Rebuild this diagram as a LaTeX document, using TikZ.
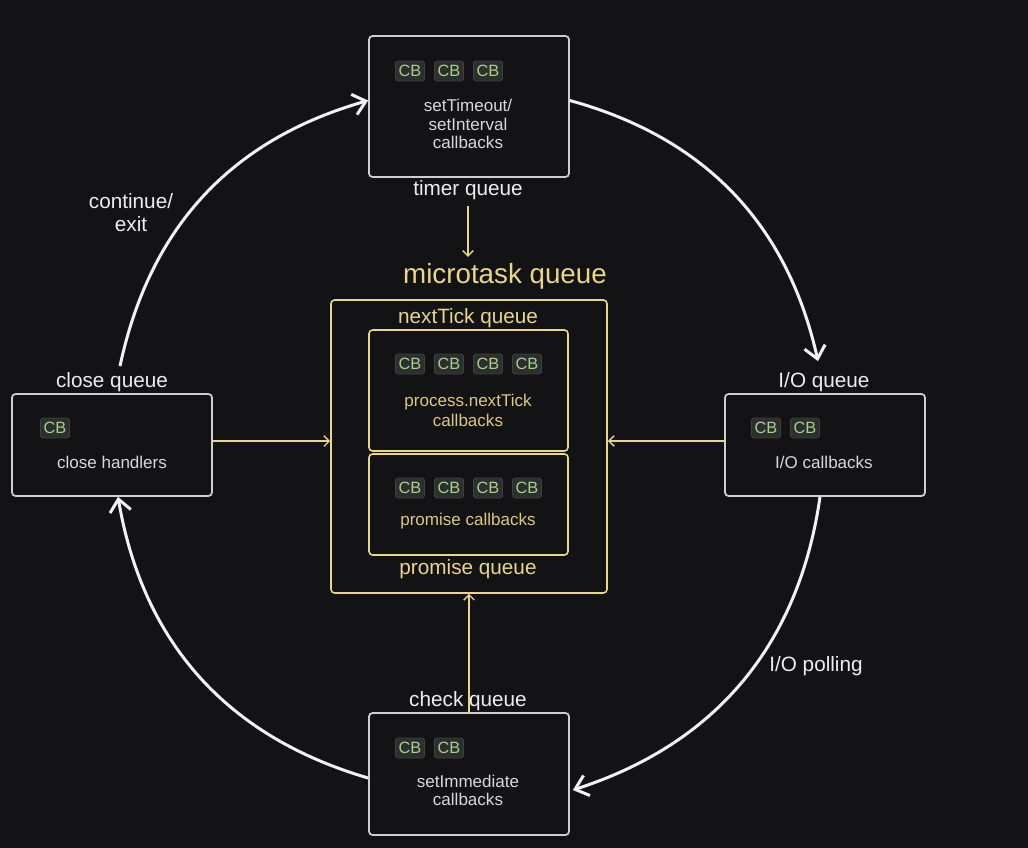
\documentclass[tikz,border=0pt]{standalone}
\usepackage{fontspec}
\setmainfont{Liberation Sans}
\usetikzlibrary{arrows.meta}

\definecolor{bg}{HTML}{131214}
\definecolor{boxline}{HTML}{CFCFCF}
\definecolor{loopline}{HTML}{F2F2F2}
\definecolor{mtyellow}{HTML}{E8D68C}
\definecolor{mttext}{HTML}{DCC883}
\definecolor{cbfill}{HTML}{2C2F2D}
\definecolor{cbdraw}{HTML}{3E413E}
\definecolor{cbtext}{HTML}{A8CF8C}
\definecolor{labeltext}{HTML}{EDEDED}
\definecolor{boxtext}{HTML}{D9D9D9}

\tikzset{
    queuebox/.style={draw=boxline, line width=1pt, rounded corners=2pt, inner sep=0pt, minimum width=4cm},
    mtbox/.style={draw=mtyellow, line width=0.9pt, rounded corners=2pt, inner sep=0pt},
    cb/.style={fill=cbfill, draw=cbdraw, line width=0.4pt, rounded corners=1pt, text=cbtext, inner sep=0pt,
        minimum width=0.58cm, minimum height=0.4cm, font=\fontsize{9.3}{10}\selectfont},
    qlabel/.style={text=labeltext, font=\fontsize{11.8}{13}\selectfont, align=center},
    mtlabel/.style={text=mtyellow, font=\fontsize{11.8}{13}\selectfont},
    boxlabel/.style={text=boxtext, font=\fontsize{9.7}{10.3}\selectfont, align=center},
    mtboxlabel/.style={text=mttext, font=\fontsize{9.7}{11.8}\selectfont, align=center},
    loop/.style={draw=loopline, line width=1.7pt, -{Straight Barb[length=7pt,width=12pt,line width=1.7pt]}},
    mtarrow/.style={draw=mtyellow, line width=0.8pt, -{Straight Barb[length=3pt,width=6pt]}}
}

\begin{document}
\begin{tikzpicture}[x=0.02cm,y=-0.02cm]
    \fill[bg] (0,0) rectangle (1028,848);
    \useasboundingbox (0,0) rectangle (1028,848);

    % the four phase boxes
    \node[queuebox, minimum height=2.82cm] (timer) at (469,106.5) {};
    \node[queuebox, minimum height=2.04cm] (close) at (112,445) {};
    \node[queuebox, minimum height=2.04cm] (io) at (825,445) {};
    \node[queuebox, minimum height=2.44cm] (check) at (469,774) {};

    \node[qlabel] (timerq) at (468,190) {timer queue};
    \node[qlabel] (closeq) at (112,382) {close queue};
    \node[qlabel] (ioq) at (824,382) {I/O queue};
    \node[qlabel] (checkq) at (468,701) {check queue};
    \node[qlabel, font=\fontsize{11.8}{13}\selectfont] (cont) at (131,213) {continue/\\exit};
    \node[qlabel] (poll) at (816,666) {I/O polling};

    \foreach \x in {410,449,488}
        \node[cb] (tcb\x) at (\x,71) {CB};
    \node[boxlabel] (ttext) at (468,124) {setTimeout/\\setInterval\\callbacks};

    \node[cb] (ccb) at (55,428) {CB};
    \node[boxlabel] (ctext) at (112,462) {close handlers};

    \foreach \x in {766,805}
        \node[cb] (icb\x) at (\x,428) {CB};
    \node[boxlabel] (itext) at (824,462) {I/O callbacks};

    \foreach \x in {410,449}
        \node[cb] (kcb\x) at (\x,748) {CB};
    \node[boxlabel] (ktext) at (468,790) {setImmediate\\callbacks};

    % microtask queue
    \node[mtlabel, font=\fontsize{15.8}{17}\selectfont] (mtq) at (505,276) {microtask queue};
    \node[mtbox, minimum width=5.52cm, minimum height=5.86cm] (mt) at (469,446.5) {};
    \node[mtbox, minimum width=3.98cm, minimum height=2.42cm] (ntbox) at (468.5,390.5) {};
    \node[mtbox, minimum width=3.98cm, minimum height=2.02cm] (prbox) at (468.5,504.5) {};
    \node[mtlabel] (ntq) at (468,318) {nextTick queue};
    \node[mtlabel] (prq) at (468,569) {promise queue};

    \foreach \x in {410,449,488,527} {
        \node[cb] (ncb\x) at (\x,364) {CB};
        \node[cb] (pcb\x) at (\x,488) {CB};
    }
    \node[mtboxlabel] (ntext) at (468,410.5) {process.nextTick\\callbacks};
    \node[mtboxlabel] (ptext) at (468,521) {promise callbacks};

    % into the microtask queue
    \draw[mtarrow] (timerq) -- (mtq.north -| timerq);
    \draw[mtarrow] ([yshift=0.08cm]close.east) -- ([yshift=0.08cm]close.east -| mt.west);
    \draw[mtarrow] ([yshift=0.08cm]io.west) -- ([yshift=0.08cm]io.west -| mt.east);
    \draw[mtarrow] (check.north) -- (mt.south);

    % the loop
    \draw[loop] ([xshift=0.16cm]closeq.north) to[bend left=31] ([yshift=0.12cm]timer.west);
    \draw[loop] ([yshift=0.12cm]timer.east) to[bend left=31] ([xshift=-0.12cm,yshift=0.1cm]ioq.north);
    \draw[loop] ([xshift=-0.1cm]io.south) to[bend left=32] ([xshift=0.06cm,yshift=-0.32cm]check.east);
    \draw[loop] ([yshift=-0.08cm]check.west) to[bend left=32] ([xshift=0.12cm]close.south);
\end{tikzpicture}
\end{document}
